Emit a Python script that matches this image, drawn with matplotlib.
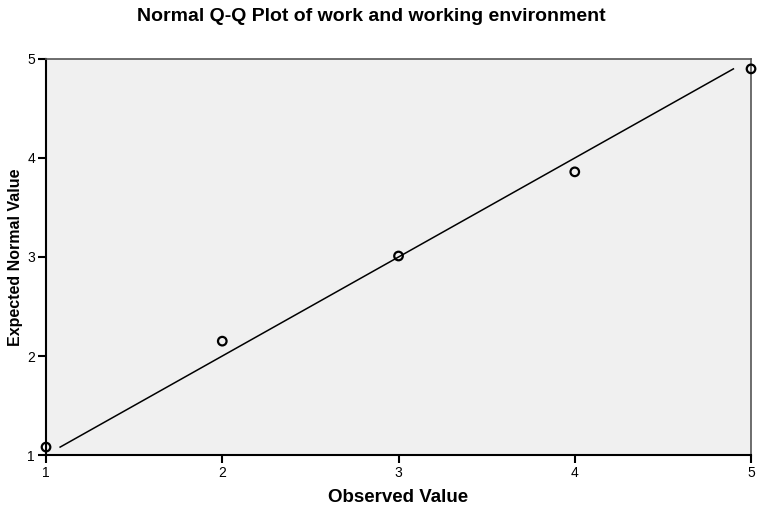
import matplotlib

matplotlib.use('Agg')
import matplotlib.pyplot as plt

observed = [1, 2, 3, 4, 5]
expected = [1.08, 2.15, 3.01, 3.86, 4.90]
line_ends = [1.08, 4.90]
ticks = [1, 2, 3, 4, 5]

plt.rcParams['font.family'] = ['Liberation Sans', 'DejaVu Sans']

fig = plt.figure(figsize=(7.57, 5.08), dpi=100)
ax = fig.add_axes([0.0608, 0.1043, 0.9313, 0.7796])
ax.set_facecolor('#f0f0f0')

ax.plot(line_ends, line_ends, color='black', linewidth=1.1)
ax.scatter(observed, expected, s=38, facecolors='none', edgecolors='black',
           linewidths=1.6, zorder=3, clip_on=False)

ax.set_xlim(1, 5)
ax.set_ylim(1, 5)
ax.set_xticks(ticks)
ax.set_yticks(ticks)
ax.tick_params(direction='out', length=6, width=1.5, labelsize=10, pad=2)

for side in ['left', 'bottom']:
    ax.spines[side].set_linewidth(1.5)
    ax.spines[side].set_color('black')
for side in ['top', 'right']:
    ax.spines[side].set_linewidth(1.2)
    ax.spines[side].set_color('#555555')

ax.set_xlabel('Observed Value', fontsize=13.5, fontweight='bold', va='center')
ax.set_ylabel('Expected Normal Value', fontsize=11.5, fontweight='bold', va='center')
ax.xaxis.set_label_coords(0.5, -0.108)
ax.yaxis.set_label_coords(-0.044, 0.5)
fig.suptitle('Normal Q-Q Plot of work and working environment', fontsize=14,
             fontweight='bold', x=0.49, y=0.968, va='center')

fig.savefig('out.png', dpi=100)
